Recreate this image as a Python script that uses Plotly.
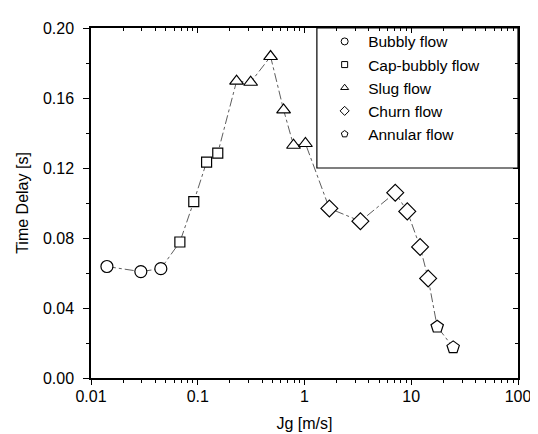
import plotly.graph_objects as go

bubbly_x = [0.0141, 0.0293, 0.0451]
bubbly_y = [0.0637, 0.0608, 0.0625]
cap_x = [0.068, 0.0918, 0.121, 0.154]
cap_y = [0.0777, 0.1008, 0.1234, 0.1285]
slug_x = [0.231, 0.313, 0.481, 0.637, 0.789, 1.02]
slug_y = [0.1696, 0.169, 0.1837, 0.1532, 0.133, 0.134]
churn_x = [1.71, 3.34, 7.08, 9.18, 12.1, 14.4]
churn_y = [0.0969, 0.0896, 0.1059, 0.0952, 0.0749, 0.0569]
annular_x = [17.5, 24.7]
annular_y = [0.0293, 0.0175]

names = ["Bubbly flow", "Cap-bubbly flow", "Slug flow", "Churn flow", "Annular flow"]
symbols = ["circle", "square", "triangle-up", "diamond", "pentagon"]
sizes = [12, 10, 12, 13, 13]
leg_sizes = [7, 6, 7, 7, 7]
xs = [bubbly_x, cap_x, slug_x, churn_x, annular_x]
ys = [bubbly_y, cap_y, slug_y, churn_y, annular_y]

all_x = sum(xs, [])
all_y = sum(ys, [])

fig = go.Figure()
fig.add_trace(go.Scatter(x=all_x, y=all_y, mode="lines",
                         line=dict(color="#333333", width=0.8, dash="dashdot"),
                         showlegend=False, hoverinfo="skip"))
for n, s, sz, x, y in zip(names, symbols, sizes, xs, ys):
    fig.add_trace(go.Scatter(x=x, y=y, mode="markers", name=n, showlegend=False,
                             marker=dict(symbol=s, size=sz, color="white",
                                         line=dict(color="black", width=1.2))))
for n, s, sz in zip(names, symbols, leg_sizes):
    fig.add_trace(go.Scatter(x=[None], y=[None], mode="markers", name=n,
                             marker=dict(symbol=s, size=sz, color="white",
                                         line=dict(color="black", width=1))))

# dummy trace for top/right inward ticks
fig.add_trace(go.Scatter(x=[None], y=[None], xaxis="x2", yaxis="y2", showlegend=False))

font = dict(family="Arial, Liberation Sans, sans-serif", size=16, color="black")
fig.update_layout(
    width=538, height=434,
    margin=dict(l=83, r=28, t=16, b=63),
    paper_bgcolor="white", plot_bgcolor="white",
    font=font,
    showlegend=True,
    legend=dict(x=0.539, y=1.009, xanchor="left", yanchor="top",
                bgcolor="rgba(0,0,0,0)", borderwidth=0,
                font=dict(family="Arial, Liberation Sans, sans-serif", size=15.5),
                tracegroupgap=0, itemwidth=37),
    xaxis=dict(type="log", range=[-2, 2], showgrid=False, zeroline=False,
               showline=True, linecolor="black", linewidth=1.5, mirror=True,
               ticks="outside", ticklen=5, tickwidth=1.2, tickcolor="black",
               ticklabelstandoff=-2,
               tickvals=[0.01, 0.1, 1, 10, 100], ticktext=["0.01", "0.1", "1", "10", "100"],
               minor=dict(ticks="outside", ticklen=3, dtick="D1", tickcolor="black", showgrid=False),
               title=dict(text="Jg [m/s]", font=dict(size=16), standoff=14)),
    yaxis=dict(range=[0, 0.2], showgrid=False, zeroline=False,
               showline=True, linecolor="black", linewidth=1.5, mirror=True,
               ticks="outside", ticklen=6, tickwidth=1.2, tickcolor="black",
               ticklabelstandoff=6,
               tickvals=[0, 0.04, 0.08, 0.12, 0.16, 0.2],
               ticktext=["0.00", "0.04", "0.08", "0.12", "0.16", "0.20"],
               minor=dict(ticks="outside", ticklen=3, dtick=0.02, tick0=0, tickcolor="black", showgrid=False),
               title=dict(text="Time Delay [s]", font=dict(size=16), standoff=10)),
    xaxis2=dict(type="log", range=[-2, 2], overlaying="x", side="top", showgrid=False,
                zeroline=False, showticklabels=False, ticks="inside", ticklen=5,
                tickvals=[0.01, 0.1, 1, 10, 100], tickcolor="black",
                minor=dict(ticks="inside", ticklen=3, dtick="D1", tickcolor="black", showgrid=False)),
    yaxis2=dict(range=[0, 0.2], overlaying="y", side="right", showgrid=False,
                zeroline=False, showticklabels=False, ticks="inside", ticklen=5,
                tickvals=[0, 0.04, 0.08, 0.12, 0.16, 0.2], tickcolor="black",
                minor=dict(ticks="inside", ticklen=3, dtick=0.02, tick0=0, tickcolor="black", showgrid=False)),
    shapes=[dict(type="rect", xref="paper", yref="paper", x0=0.529, x1=1, y0=0.6, y1=1,
                 line=dict(color="black", width=1.2), fillcolor="white", layer="below")],
)
fig.write_html("out.html")
